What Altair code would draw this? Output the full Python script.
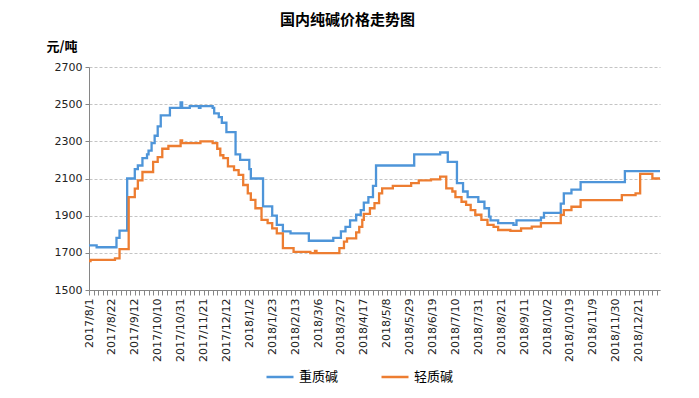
import altair as alt
import pandas as pd

# category labels shown on the x axis (one every 15 trading days)
labels = ["2017/8/1", "2017/8/22", "2017/9/12", "2017/10/10", "2017/10/31", "2017/11/21",
          "2017/12/12", "2018/1/2", "2018/1/23", "2018/2/13", "2018/3/6", "2018/3/27",
          "2018/4/17", "2018/5/8", "2018/5/29", "2018/6/19", "2018/7/10", "2018/7/31",
          "2018/8/21", "2018/9/11", "2018/10/2", "2018/10/19", "2018/11/9", "2018/11/30",
          "2018/12/21"]

series_names = ["重质碱", "轻质碱"]

# 重质碱: (trading-day index where price changes, price)
heavy_idx = [0, 5, 18, 20, 25, 30, 32, 35, 38, 39, 41, 43, 45, 47, 53, 60, 61, 66, 72, 73,
             81, 82, 85, 87, 90, 96, 99, 105, 106, 114, 120, 123, 127, 132, 144, 160, 165,
             168, 171, 175, 178, 180, 183, 186, 188, 213, 230, 235, 241, 245, 248, 255, 259,
             262, 263, 268, 278, 280, 296, 298, 309, 311, 316, 322, 351, 374]
heavy_val = [1740, 1730, 1780, 1820, 2100, 2150, 2170, 2210, 2230, 2250, 2290, 2330, 2380,
             2440, 2480, 2510, 2480, 2490, 2480, 2490, 2480, 2450, 2430, 2400, 2350, 2230,
             2200, 2150, 2100, 1950, 1900, 1850, 1815, 1805, 1765, 1780, 1815, 1840, 1875,
             1905, 1930, 1970, 2000, 2060, 2170, 2230, 2240, 2190, 2075, 2030, 2000, 1975,
             1940, 1895, 1875, 1860, 1850, 1875, 1890, 1915, 1965, 2020, 2040, 2080, 2140,
             2140]

# 轻质碱
light_idx = [0, 1, 17, 20, 26, 30, 32, 35, 42, 45, 48, 52, 60, 61, 73, 81, 84, 86, 88, 91,
             95, 98, 101, 104, 106, 109, 113, 117, 120, 123, 127, 134, 145, 148, 149, 164,
             167, 169, 175, 177, 179, 180, 184, 187, 190, 192, 199, 211, 216, 224, 230, 234,
             238, 240, 244, 247, 250, 253, 257, 261, 265, 268, 276, 283, 290, 296, 309, 311,
             316, 322, 349, 358, 361, 369, 374]
light_val = [1655, 1662, 1670, 1720, 2000, 2045, 2090, 2135, 2190, 2215, 2260, 2275, 2305,
             2290, 2300, 2290, 2260, 2225, 2210, 2165, 2145, 2120, 2065, 2020, 1985, 1940,
             1877, 1860, 1832, 1805, 1725, 1705, 1698, 1710, 1698, 1725, 1760, 1778, 1810,
             1840, 1877, 1910, 1940, 1967, 2020, 2047, 2060, 2075, 2090, 2095, 2110, 2047,
             2030, 2000, 1975, 1958, 1930, 1905, 1877, 1850, 1840, 1823, 1818, 1832, 1841,
             1860, 1904, 1930, 1948, 1984, 2011, 2020, 2125, 2100, 2100]

colors = ["#4e95d9", "#ed7d31"]

df = pd.concat([
    pd.DataFrame({"i": heavy_idx, "price": heavy_val, "type": series_names[0], "o": 0}),
    pd.DataFrame({"i": light_idx, "price": light_val, "type": series_names[1], "o": 1}),
])

label_arr = "[" + ",".join("'" + s + "'" for s in labels) + "]"
label_expr = f"datum.value % 15 == 0 ? {label_arr}[datum.value / 15] : ''"

CJK = "Noto Sans CJK SC"
LAT = "DejaVu Sans"
AXC = "#868686"

chart = alt.Chart(df).mark_line(interpolate="step-after", strokeWidth=2.3).encode(
    x=alt.X("i:Q",
            scale=alt.Scale(domain=[0, 374], nice=False, zero=False),
            axis=alt.Axis(values=list(range(0, 375, 3)), labelExpr=label_expr,
                          labelAngle=270, labelAlign="right", labelBaseline="middle",
                          labelPadding=3, labelFont=LAT, labelFontSize=11,
                          labelColor="#222", labelOverlap=False, labelFlush=False,
                          tickSize=5, tickColor=AXC, domainColor=AXC, grid=False,
                          title=None)),
    y=alt.Y("price:Q",
            scale=alt.Scale(domain=[1500, 2700], nice=False, zero=False),
            axis=alt.Axis(values=list(range(1500, 2701, 200)), format="d",
                          labelFont=LAT, labelFontSize=11, labelColor="#222",
                          labelPadding=3, tickSize=4, tickColor=AXC, domainColor=AXC,
                          grid=True, gridColor="#c4c4c4", gridDash=[3, 2],
                          title="元/吨", titleAngle=0, titleX=-43, titleY=-21,
                          titleAlign="left", titleBaseline="middle", titleFont=CJK,
                          titleFontSize=13, titleFontWeight="bold", titleColor="#000")),
    color=alt.Color("type:N",
                    scale=alt.Scale(domain=series_names, range=colors),
                    legend=alt.Legend(orient="none", legendX=176, legendY=295,
                                      direction="horizontal", title=None,
                                      symbolType="stroke", symbolSize=729,
                                      symbolStrokeWidth=2.5, labelFont=CJK,
                                      labelFontSize=13, labelColor="#000",
                                      labelOffset=4, columnPadding=37)),
    order="o:Q",
    detail="type:N",
).properties(
    width=571,
    height=223,
    title=alt.TitleParams(text="国内纯碱价格走势图", font=CJK, fontSize=15,
                          fontWeight="bold", anchor="middle", dx=-27, offset=12,
                          color="#000"),
    autosize=alt.AutoSizeParams(type="none"),
    padding={"left": 81, "top": 59, "right": 23, "bottom": 100},
).configure_view(stroke=None)

chart.save("out.html", embed_options={"renderer": "svg", "actions": False})
